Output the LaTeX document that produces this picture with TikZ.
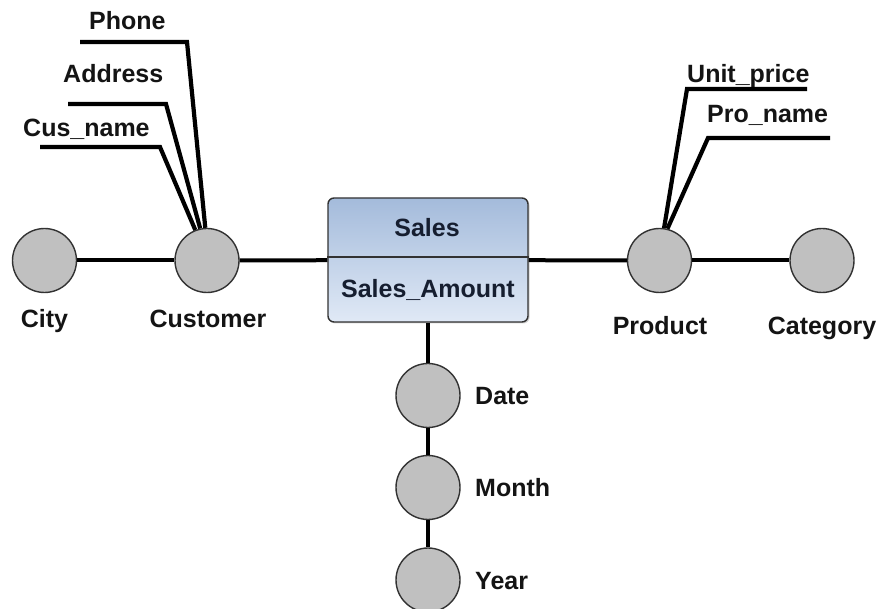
\documentclass[tikz,border=0pt]{standalone}
\usepackage{fontspec}
\setmainfont{Liberation Sans}
\usetikzlibrary{shadows}
\definecolor{circfill}{RGB}{192,192,192}
\definecolor{circdraw}{RGB}{50,50,50}
\definecolor{boxtop}{RGB}{164,187,219}
\definecolor{boxbot}{RGB}{224,233,246}
\definecolor{txt}{RGB}{20,20,20}
\definecolor{salestxt}{RGB}{22,30,48}
\tikzset{
  ent/.style={circle, minimum size=64pt, inner sep=0pt, fill=circfill, draw=circdraw, line width=1.4pt},
  lbl/.style={font=\fontsize{25}{30}\selectfont\bfseries, inner sep=0pt, text=txt},
  link/.style={line width=4pt, black},
  attrline/.style={line width=4.2pt, black, line join=miter},
  factbox/.style={rectangle, rounded corners=6pt, minimum width=200pt, minimum height=124pt,
    draw=circdraw, line width=1.4pt, top color=boxtop, bottom color=boxbot,
    drop shadow={opacity=0.35, shadow xshift=1.5pt, shadow yshift=-1.5pt}}
}
\begin{document}
\begin{tikzpicture}[x=1pt,y=-1pt]
\useasboundingbox (0,0) rectangle (879,609);

% central fact box
\node[factbox] (sales) at (428,260) {};
\draw[circdraw, line width=1.4pt] ([yshift=3pt]sales.west) -- ([yshift=3pt]sales.east);
\node[lbl, text=salestxt, anchor=base] (salesT) at (427,237) {Sales};
\node[lbl, text=salestxt, anchor=base] (salesA) at (428,298) {Sales\_Amount};

% entity circles
\node[ent] (city) at (44.5,260.5) {};
\node[ent] (cust) at (207,260.5) {};
\node[ent] (prod) at (659.5,260.5) {};
\node[ent] (cat)  at (822,260.5) {};
\node[ent] (date) at (428,395.5) {};
\node[ent] (month) at (428,487.5) {};
\node[ent] (year) at (428,580) {};

% links
\draw[link] (city) -- (cust);
\draw[link] (cust) -- (sales);
\draw[link] (sales) -- (prod);
\draw[link] (prod) -- (cat);
\draw[link] (sales) -- (date);
\draw[link] (date) -- (month);
\draw[link] (month) -- (year);

% entity labels
\node[lbl, anchor=base] (cityL) at (44.5,328) {City};
\node[lbl, anchor=base] (custL) at (208,328) {Customer};
\node[lbl, anchor=base] (prodL) at (660,335) {Product};
\node[lbl, anchor=base] (catL) at (822,335) {Category};
\node[lbl, anchor=base west] (dateL) at (475,405) {Date};
\node[lbl, anchor=base west] (monthL) at (475,497) {Month};
\node[lbl, anchor=base west] (yearL) at (475,590) {Year};

% customer attributes
\node[lbl, anchor=base west] (phoneL) at (89,30) {Phone};
\node[lbl, anchor=base west] (addrL) at (63,83) {Address};
\node[lbl, anchor=base west] (cnameL) at (23,137) {Cus\_name};
\coordinate (phoneA) at (80,42);
\coordinate (phoneB) at (187,42);
\coordinate (addrA) at (68,104);
\coordinate (addrB) at (166,104);
\coordinate (cnameA) at (40,147);
\coordinate (cnameB) at (160,147);
\draw[attrline] (phoneA) -- (phoneB) -- (cust.93);
\draw[attrline] (addrA) -- (addrB) -- (cust.102);
\draw[attrline] (cnameA) -- (cnameB) -- (cust.111);

% product attributes
\node[lbl, anchor=base west] (upriceL) at (687,83) {Unit\_price};
\node[lbl, anchor=base west] (pnameL) at (707,123) {Pro\_name};
\coordinate (upriceA) at (807,89);
\coordinate (upriceB) at (687,89);
\coordinate (pnameA) at (830,138);
\coordinate (pnameB) at (708,138);
\draw[attrline] (upriceA) -- (upriceB) -- (prod.82);
\draw[attrline] (pnameA) -- (pnameB) -- (prod.76);
\end{tikzpicture}
\end{document}
